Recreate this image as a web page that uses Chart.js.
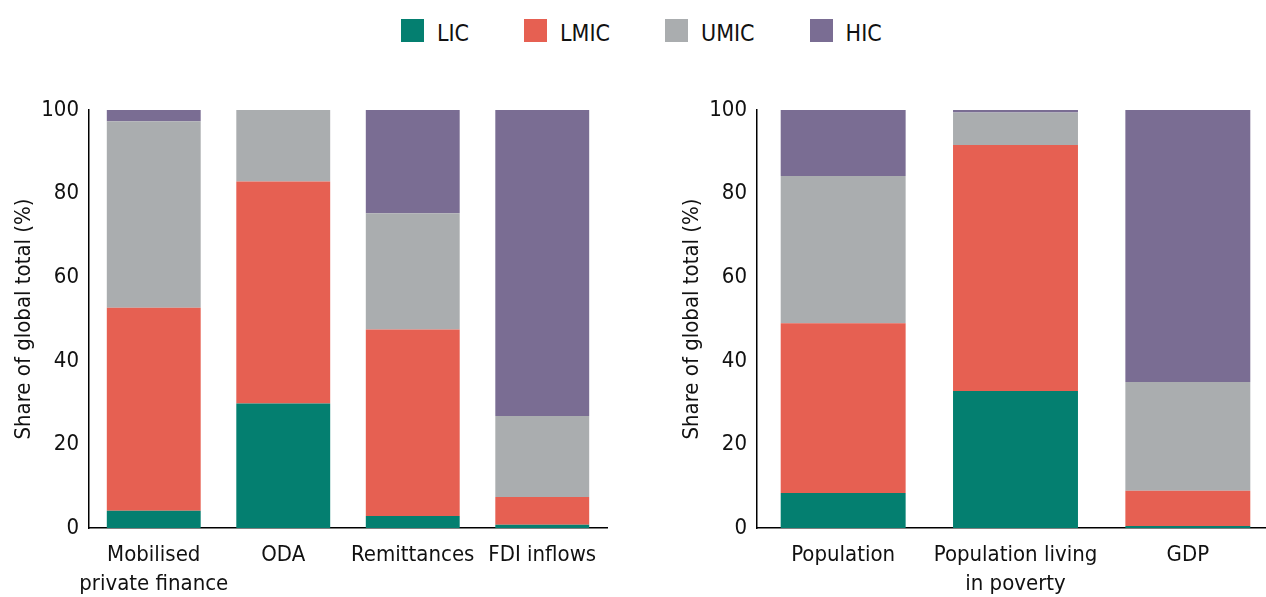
<!DOCTYPE html>
<html lang="en">
<head>
    <meta charset="UTF-8">
    <script src="https://cdn.jsdelivr.net/npm/chart.js"></script>
    <title>Share of global total by income group</title>
    <style>
        html, body { margin: 0; padding: 0; background: #fff; overflow: hidden; }
        body { width: 1266px; height: 597px; position: relative; }
        #legend {
            position: absolute; left: 401px; top: 19px;
            display: flex; gap: 55px;
            font-family: 'DejaVu Sans Condensed', 'Liberation Sans Narrow', sans-serif;
            font-size: 23px; line-height: 23px; color: #111;
        }
        #legend .item { display: flex; align-items: center; }
        #legend .item span { position: relative; top: 3px; }
        #legend .box { width: 23px; height: 23px; margin-right: 13px; }
        #left { position: absolute; left: 0; top: 0; }
        #right { position: absolute; left: 668px; top: 0; }
    </style>
</head>
<body>
    <div id="legend"></div>
    <canvas id="left" width="640" height="597"></canvas>
    <canvas id="right" width="606" height="597"></canvas>
    <script>
        // income groups and their colours
        const groups = ['LIC', 'LMIC', 'UMIC', 'HIC'];
        const colors = ['#047f70', '#e66052', '#aaadaf', '#7a6d93'];

        // left panel: financial flows (share of global total, %)
        const flowLabels = [['Mobilised', 'private finance'], 'ODA', 'Remittances', 'FDI inflows'];
        const flowLIC  = [4.1, 29.8, 2.9, 0.8];
        const flowLMIC = [48.6, 53.1, 44.6, 6.6];
        const flowUMIC = [44.6, 17.1, 27.8, 19.4];
        const flowHIC  = [2.7, 0, 24.7, 73.4];

        // right panel: population, poverty and GDP
        const popLabels = ['Population', ['Population living', 'in poverty'], 'GDP'];
        const popLIC  = [8.4, 32.8, 0.5];
        const popLMIC = [40.6, 58.8, 8.4];
        const popUMIC = [35.2, 7.8, 26.0];
        const popHIC  = [15.8, 0.8, 65.3];

        const yTicks = [0, 20, 40, 60, 80, 100];
        const yTitle = 'Share of global total (%)';

        const fontFamily = "'DejaVu Sans Condensed', 'Liberation Sans Narrow', sans-serif";

        // html legend shared by both panels
        const legend = document.getElementById('legend');
        groups.forEach((g, i) => {
            const item = document.createElement('div');
            item.className = 'item';
            item.innerHTML = '<div class="box" style="background:' + colors[i] + '"></div><span>' + g + '</span>';
            legend.appendChild(item);
        });

        function makeChart(id, labels, series, padRight) {
            new Chart(document.getElementById(id), {
                type: 'bar',
                data: {
                    labels: labels,
                    datasets: series.map((d, i) => ({
                        label: groups[i],
                        data: d,
                        backgroundColor: colors[i],
                        borderWidth: 0,
                        barPercentage: 0.725,
                        categoryPercentage: 1
                    }))
                },
                options: {
                    responsive: false,
                    animation: false,
                    layout: { padding: { top: 110, right: padRight, bottom: 0, left: 0 } },
                    plugins: { legend: { display: false }, tooltip: { enabled: false } },
                    scales: {
                        x: {
                            stacked: true,
                            grid: { display: false, drawTicks: false },
                            border: { display: true, color: '#000', width: 1.5 },
                            ticks: {
                                color: '#111',
                                padding: 13,
                                maxRotation: 0,
                                autoSkip: false,
                                font: { family: fontFamily, size: 22, lineHeight: 1.32 }
                            },
                            afterFit: s => { s.height = 69; }
                        },
                        y: {
                            stacked: true,
                            min: 0,
                            max: 100,
                            afterBuildTicks: s => { s.ticks = yTicks.map(v => ({ value: v })); },
                            grid: { display: false, drawTicks: false },
                            border: { display: true, color: '#000', width: 1.5 },
                            ticks: {
                                color: '#111',
                                padding: 10,
                                font: { family: fontFamily, size: 22 }
                            },
                            title: {
                                display: true,
                                text: yTitle,
                                color: '#111',
                                padding: { top: 11, bottom: 0 },
                                font: { family: fontFamily, size: 22 }
                            },
                            afterFit: s => { s.width = 89; }
                        }
                    }
                }
            });
        }

        makeChart('left', flowLabels, [flowLIC, flowLMIC, flowUMIC, flowHIC], 33);
        makeChart('right', popLabels, [popLIC, popLMIC, popUMIC, popHIC], 0);
    </script>
</body>
</html>
